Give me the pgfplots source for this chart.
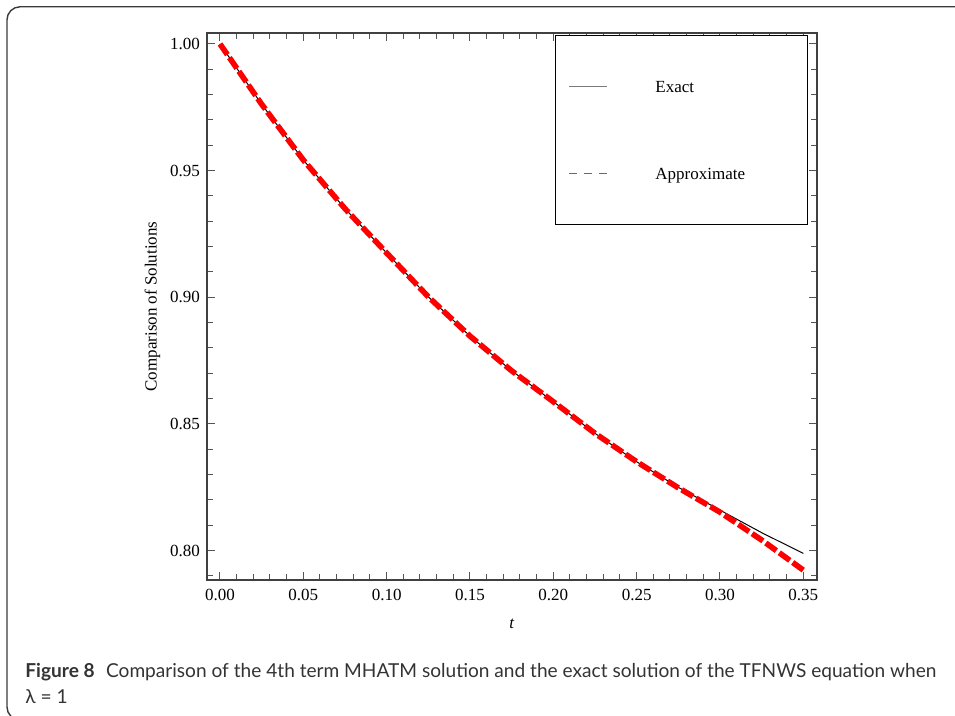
\documentclass[border=0pt]{standalone}
\usepackage{fontspec}
\setmainfont{Liberation Serif}
\newfontfamily\capfont{Lato}
\usepackage{graphicx}
\usepackage{xcolor}
\usepackage{pgfplots}
\pgfplotsset{compat=1.18}
\definecolor{framegray}{HTML}{3A3A3A}
\definecolor{tickgray}{HTML}{555555}
\definecolor{capgray}{HTML}{333333}
\definecolor{legred}{HTML}{F03030}
\definecolor{leggray}{HTML}{7A7A7A}
\newcommand{\legdash}{\rule[2.5pt]{4pt}{0.6pt}}

\begin{document}
\begin{tikzpicture}
\useasboundingbox (0,0) rectangle (477.5pt,358pt);
\begin{scope}
\clip (0,0) rectangle (477.5pt,358pt);
\draw[framegray, line width=0.7pt, rounded corners=6.5pt] (3.5pt,-2pt) rectangle (495pt,354.6pt);
\end{scope}
\begin{axis}[
  at={(103.5pt,68pt)}, anchor=south west,
  width=305pt, height=273.5pt, scale only axis,
  xmin=-0.0078, xmax=0.3582,
  ymin=0.78842, ymax=1.00434,
  xtick={0,0.05,0.1,0.15,0.2,0.25,0.3,0.35},
  ytick={0.8,0.85,0.9,0.95,1.0},
  minor xtick={0.01,0.02,0.03,0.04,0.06,0.07,0.08,0.09,0.11,0.12,0.13,0.14,0.16,0.17,0.18,0.19,0.21,0.22,0.23,0.24,0.26,0.27,0.28,0.29,0.31,0.32,0.33,0.34},
  minor ytick={0.79,0.81,0.82,0.83,0.84,0.86,0.87,0.88,0.89,0.91,0.92,0.93,0.94,0.96,0.97,0.98,0.99},
  tick pos=both, tick align=inside,
  major tick length=4.2pt, minor tick length=3pt,
  every tick/.style={tickgray, line width=0.5pt},
  axis line style={black!75, line width=0.6pt},
  /pgf/number format/assume math mode=true,
  /pgf/number format/.cd, fixed, fixed zerofill, precision=2, /pgfplots/.cd,
  tick label style={font=\fontsize{8.5}{10}\selectfont},
  xticklabel style={yshift=-1.2pt},
  xlabel={\textit{t}},
  ylabel={Comparison of Solutions},
  label style={font=\fontsize{8.5}{10}\selectfont},
  xlabel style={at={(axis description cs:0.5,-0.0804)}, anchor=center},
  ylabel style={at={(axis description cs:-0.0893,0.5)}, anchor=center, rotate=0},
  legend image code/.code={},
  legend cell align=left,
  legend style={at={(rel axis cs:0.5705,0.9963)}, anchor=north west,
    draw, fill=white,
    inner xsep=7pt, inner ysep=22.7pt, row sep=37.9pt, column sep=0pt,
    font=\fontsize{8.5}{10}\selectfont,
    nodes={inner sep=0pt, text height=5.6pt, text depth=0pt, text width=112pt}},
]
\addplot[forget plot, black, line width=0.5pt] table {
0 1.0
0.025 0.9762
0.05 0.9542
0.075 0.9350
0.1 0.9175
0.125 0.9002
0.15 0.8847
0.175 0.8710
0.2 0.8588
0.225 0.8463
0.25 0.8351
0.275 0.8250
0.3 0.8160
0.325 0.8071
0.35 0.7989
};
\addplot[forget plot, red, line width=2.8pt, dash pattern=on 6.5pt off 1.8pt] table {
0 1.0
0.025 0.9762
0.05 0.9542
0.075 0.9350
0.1 0.9175
0.125 0.9002
0.15 0.8847
0.175 0.8710
0.2 0.8588
0.225 0.8463
0.25 0.8351
0.275 0.8248
0.3 0.8152
0.325 0.8042
0.35 0.7923
};
\addlegendimage{black}
\addlegendentry{\makebox[43pt][l]{\textcolor{leggray}{\rule[2.4pt]{19pt}{0.85pt}}}Exact}
\addlegendimage{red}
\addlegendentry{\makebox[43pt][l]{\textcolor{legred}{\legdash\hspace{3.5pt}\legdash\hspace{3.5pt}\legdash}}Approximate}
\end{axis}
\node[anchor=base west, inner sep=0pt, text=capgray] at (12.5pt,19pt)
  {\resizebox{455.5pt}{\height}{\capfont\fontsize{9.6}{11}\selectfont\textbf{Figure 8}\hspace{0.6em}Comparison of the 4th term MHATM solution and the exact solution of the TFNWS equation when}};
\node[anchor=base west, inner sep=0pt, text=capgray] at (12.5pt,6pt)
  {\capfont\fontsize{9.6}{11}\selectfont λ = 1};
\end{tikzpicture}
\end{document}
